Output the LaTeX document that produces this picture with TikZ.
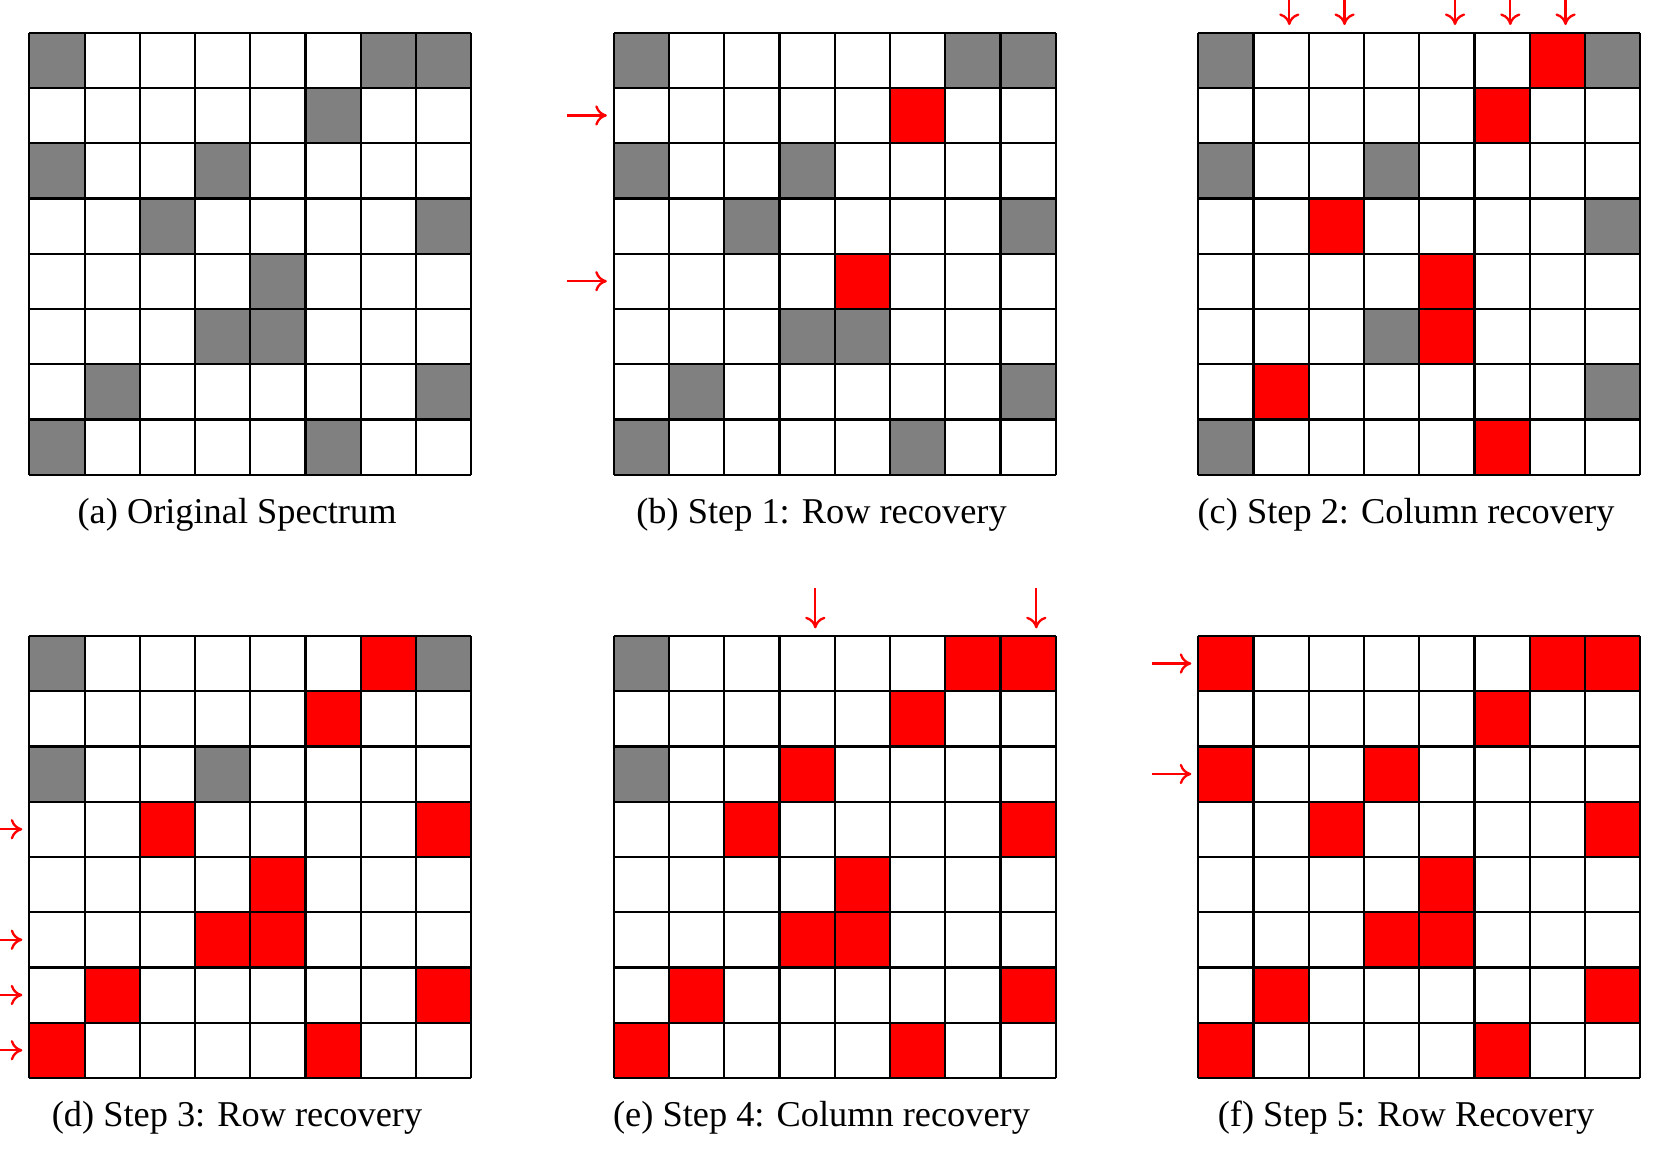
\documentclass[tikz,border=0pt]{standalone}
\usepackage{fontspec}
\setmainfont{Liberation Serif}
\usetikzlibrary{arrows.meta}

\begin{document}
\begin{tikzpicture}[
    lost/.style={fill=gray},
    found/.style={fill=red},
    cellgrid/.style={line width=1.1pt},
    recov/.style={red,line width=1.2pt,-{To[length=6pt,width=10.5pt]}},
    subcap/.style={anchor=base,inner sep=0pt,font=\fontsize{18.8}{22}\selectfont}]
\useasboundingbox (0,0) rectangle (30.109,21.164);

% one spectrum per panel: cells row/column/state
\foreach \pnl/\x/\y/\cells/\txt in {
    a/0.533/20.569/{0/0/lost,0/6/lost,0/7/lost,1/5/lost,2/0/lost,2/3/lost,3/2/lost,3/7/lost,4/4/lost,5/3/lost,5/4/lost,6/1/lost,6/7/lost,7/0/lost,7/5/lost}/{(a) Original Spectrum},
    b/11.16/20.569/{0/0/lost,0/6/lost,0/7/lost,1/5/found,2/0/lost,2/3/lost,3/2/lost,3/7/lost,4/4/found,5/3/lost,5/4/lost,6/1/lost,6/7/lost,7/0/lost,7/5/lost}/{(b) Step 1: Row recovery},
    c/21.787/20.569/{0/0/lost,0/6/found,0/7/lost,1/5/found,2/0/lost,2/3/lost,3/2/found,3/7/lost,4/4/found,5/3/lost,5/4/found,6/1/found,6/7/lost,7/0/lost,7/5/found}/{(c) Step 2: Column recovery},
    d/0.533/9.6/{0/0/lost,0/6/found,0/7/lost,1/5/found,2/0/lost,2/3/lost,3/2/found,3/7/found,4/4/found,5/3/found,5/4/found,6/1/found,6/7/found,7/0/found,7/5/found}/{(d) Step 3: Row recovery},
    e/11.16/9.6/{0/0/lost,0/6/found,0/7/found,1/5/found,2/0/lost,2/3/found,3/2/found,3/7/found,4/4/found,5/3/found,5/4/found,6/1/found,6/7/found,7/0/found,7/5/found}/{(e) Step 4: Column recovery},
    f/21.787/9.6/{0/0/found,0/6/found,0/7/found,1/5/found,2/0/found,2/3/found,3/2/found,3/7/found,4/4/found,5/3/found,5/4/found,6/1/found,6/7/found,7/0/found,7/5/found}/{(f) Step 5: Row Recovery}}
{
    \coordinate (P\pnl) at (\x,\y);
    \begin{scope}[shift={(P\pnl)},scale=1.0045]
        \foreach \r/\c/\k in \cells
            \fill[\k] (\c,-\r) rectangle ++(1,-1);
        \draw[cellgrid] (0,0) grid (8,-8);
        \node[subcap] (C\pnl) at (3.76,-8.88) {\txt};
    \end{scope}
}

% recovered rows
\foreach \pnl/\r in {b/1,b/4,d/3,d/5,d/6,d/7,f/0,f/2}{
    \coordinate (R\pnl\r) at ([shift={(-0.127,-1.0045*\r-0.5)}]P\pnl);
    \draw[recov] ([xshift=-0.72cm]R\pnl\r) -- (R\pnl\r);
}
% recovered columns
\foreach \pnl/\c in {c/1,c/2,c/4,c/5,c/6,e/3,e/7}{
    \coordinate (K\pnl\c) at ([shift={(1.0045*\c+0.65,0.14)}]P\pnl);
    \draw[recov] ([yshift=0.73cm]K\pnl\c) -- (K\pnl\c);
}
\end{tikzpicture}
\end{document}
